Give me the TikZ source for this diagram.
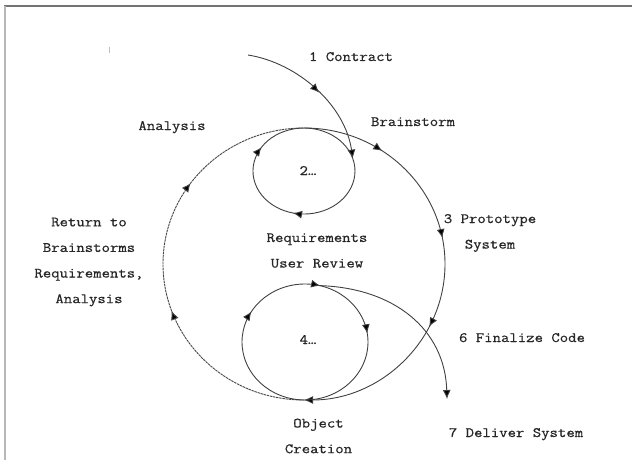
\documentclass[tikz,border=0pt]{standalone}
\usepackage{fontspec}
\setmonofont[FakeStretch=1.14,FakeBold=0.6]{Latin Modern Mono}
\usetikzlibrary{arrows.meta,decorations.markings}
\tikzset{ah/.tip={Latex[length=9pt,width=8pt]}}
\begin{document}
\begin{tikzpicture}[x=1pt,y=-1pt,
  lbl/.style={font=\ttfamily\fontsize{14.3}{25.6}\selectfont, inner sep=0pt, align=center, text=black!85},
  curve/.style={draw=black!75, line width=0.9pt},
  dashcurve/.style={draw=black!72, line width=0.9pt, dash pattern=on 2.5pt off 0.7pt},
  endtip/.style={-{ah[fill=black]}},
  mk/.style={postaction={decorate,decoration={markings,mark=at position #1 with {\pgfsetdash{}{0pt}\arrow{ah[fill=black]}}}}},
]
\useasboundingbox (0,0) rectangle (632,460);
% frame
\draw[black!55, line width=1.5pt] (4,6) -- (632,6);
\draw[black!28, line width=2pt] (4.5,6) -- (4.5,460);
\draw[black!25, line width=0.8pt] (109,47) -- (109,53);

% key points
\coordinate (cs) at (248,55);
\coordinate (c2e) at (352.8,158.6);
\coordinate (T) at (304,128);
\coordinate (B) at (304,400);
\coordinate (B4) at (305,400);
\coordinate (c4t) at (319.6,285.6);
\coordinate (dv) at (447,399);

% contract curve into loop 2
\draw[curve, endtip, mk=0.52] (cs) .. controls (298,63) and (345,105) .. (c2e);
% loop 2
\draw[curve, mk=0.33, mk=0.63] (c2e) arc[start angle=-16.8, end angle=343.2, x radius=51, y radius=43];
% big loop, solid part
\draw[curve, endtip, mk=0.19, mk=0.44, mk=0.65] (T) arc[start angle=-90, end angle=90, x radius=141, y radius=136];
% big loop, dashed return part
\draw[dashcurve, mk=0.39, mk=0.70] (B) arc[start angle=90, end angle=270, x radius=141, y radius=136];
% loop 4
\draw[curve, mk=0.335, mk=0.54, mk=0.727] (B4) arc[start angle=90, end angle=450, x radius=63, y radius=58];
% deliver
\draw[curve, endtip] (c4t) .. controls (395,288) and (445,330) .. (dv);

% labels
\node[lbl, anchor=base] (contract) at (351,61) {1 Contract};
\node[lbl, anchor=base] (brain) at (413,126) {Brainstorm};
\node[lbl, anchor=base] (analysis) at (172,130) {Analysis};
\node[lbl, anchor=base] (two) at (308,175) {2…};
\node[lbl] (proto) at (490,233) {3 Prototype\\System};
\node[lbl] (ret) at (89,262) {Return to\\Brainstorms\\Requirements,\\Analysis};
\node[lbl] (req) at (317,250.5) {Requirements\\User Review};
\node[lbl, anchor=base] (four) at (308,344) {4…};
\node[lbl, anchor=base] (fin) at (522,342) {6 Finalize Code};
\node[lbl] (obj) at (318.5,436) {Object\\Creation};
\node[lbl, anchor=base] (deliver) at (516,437) {7 Deliver System};
\end{tikzpicture}
\end{document}
